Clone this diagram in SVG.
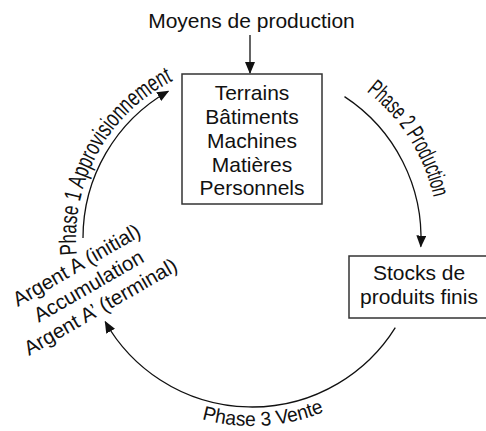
<svg xmlns="http://www.w3.org/2000/svg" width="486" height="431" viewBox="0 0 486 431">
<style>
text{font-family:"Liberation Sans",Arial,Helvetica,sans-serif;fill:#111}
.t{font-size:21px;text-anchor:middle}
.l{font-size:20.5px;text-anchor:middle}
.ph{font-size:24px}
.ph3{font-size:20px}
.box{fill:#fff;stroke:#333;stroke-width:1.5}
.arc{fill:none;stroke:#111;stroke-width:1.3}
</style>
<defs>
<marker id="ah" viewBox="0 0 12 10" refX="11" refY="5" markerWidth="12" markerHeight="10" markerUnits="userSpaceOnUse" orient="auto">
<path d="M0,0 L12,5 L0,10 z" fill="#111"/>
</marker>
<path id="p1" d="M76.8,254.6 A176,176 0 0 1 172.9,80.8"/>
<path id="p2" d="M366.5,91.4 A186,186 0 0 1 433.6,197.7"/>
<path id="p3" d="M201.8,419.2 A188,188 0 0 0 325.5,411.1"/>
</defs>
<rect width="486" height="431" fill="#fff"/>
<g id="connectors">
<line class="arc" x1="250" y1="35" x2="250" y2="73" marker-end="url(#ah)"/>
<path class="arc" d="M83,238 A169,169 0 0 1 168.3,91.2" marker-end="url(#ah)"/>
<path class="arc" d="M344.5,96.6 A169,169 0 0 1 420.8,246.6" marker-end="url(#ah)"/>
<path class="arc" d="M395.3,327.6 A169,169 0 0 1 105.2,321.7" marker-end="url(#ah)"/>
<text class="ph"><textPath href="#p1" textLength="211" lengthAdjust="spacingAndGlyphs">Phase 1 Approvisionnement</textPath></text>
<text class="ph"><textPath href="#p2" textLength="128" lengthAdjust="spacingAndGlyphs">Phase 2 Production</textPath></text>
<text class="ph3"><textPath href="#p3" textLength="125" lengthAdjust="spacingAndGlyphs">Phase 3 Vente</textPath></text>
</g>
<g id="moyens">
<text class="t" x="251.5" y="28">Moyens de production</text>
</g>
<g id="ressources">
<rect class="box" x="182" y="74" width="140" height="130"/>
<text class="t" x="252" y="100">Terrains</text>
<text class="t" x="252" y="124">Bâtiments</text>
<text class="t" x="252" y="148">Machines</text>
<text class="t" x="252" y="172">Matières</text>
<text class="t" x="252" y="195">Personnels</text>
</g>
<g id="stocks">
<rect class="box" x="349" y="256" width="139" height="62"/>
<text class="t" x="419" y="280">Stocks de</text>
<text class="t" x="419" y="304">produits finis</text>
</g>
<g id="argent" transform="translate(92,292) rotate(-30)">
<text class="l" x="0" y="-24">Argent A (initial)</text>
<text class="l" x="0" y="0">Accumulation</text>
<text class="l" x="0" y="24">Argent A’ (terminal)</text>
</g>
</svg>
